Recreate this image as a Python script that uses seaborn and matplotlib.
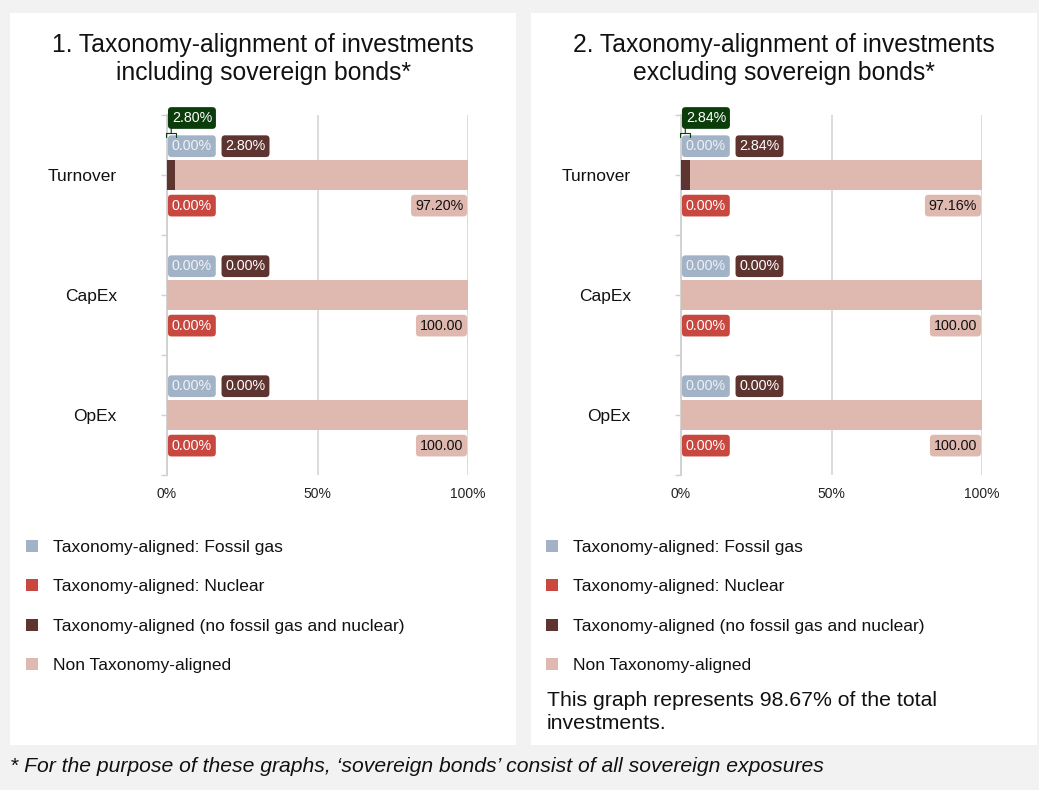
import matplotlib
matplotlib.use("Agg")
import matplotlib.pyplot as plt
from matplotlib.patches import Rectangle, Patch
import pandas as pd
import seaborn as sns

# data (percentages)
categories = ["Turnover", "CapEx", "OpEx"]
incl_fossil = [0.00, 0.00, 0.00]
incl_nuclear = [0.00, 0.00, 0.00]
incl_aligned = [2.80, 0.00, 0.00]
incl_non = [97.20, 100.00, 100.00]
excl_fossil = [0.00, 0.00, 0.00]
excl_nuclear = [0.00, 0.00, 0.00]
excl_aligned = [2.84, 0.00, 0.00]
excl_non = [97.16, 100.00, 100.00]

titles = ["1. Taxonomy-alignment of investments\nincluding sovereign bonds*",
          "2. Taxonomy-alignment of investments\nexcluding sovereign bonds*"]
series_names = ["Taxonomy-aligned: Fossil gas", "Taxonomy-aligned: Nuclear",
                "Taxonomy-aligned (no fossil gas and nuclear)", "Non Taxonomy-aligned"]
x_ticks = [0, 50, 100]
x_tick_labels = ["0%", "50%", "100%"]
share_note = "This graph represents 98.67% of the total\ninvestments."
footnote = "* For the purpose of these graphs, \u2018sovereign bonds\u2019 consist of all sovereign exposures"

C_FOSSIL = "#a3b3c7"
C_NUCLEAR = "#c8473f"
C_ALIGNED = "#5e3430"
C_NON = "#dfb9b0"
C_TOTAL = "#0b3d0b"
BG = "#f2f2f2"

sns.set_theme(style="white")
plt.rcParams["font.family"] = ["Liberation Sans", "DejaVu Sans"]

fig = plt.figure(figsize=(10.39, 7.90), dpi=100, facecolor=BG)
W, H = 1039, 790


def fx(px):
    return px / W


def fy(py):
    return 1 - py / H


# white panels behind everything
for left, right in [(10, 516), (531, 1037)]:
    fig.patches.append(Rectangle((fx(left), fy(745)), fx(right - left), (745 - 13) / H,
                                 transform=fig.transFigure, facecolor="white",
                                 edgecolor="none", zorder=-5))

LABEL_FS = 10.3


def box(ax, x, y, text, fc, tc, ha="left"):
    ax.text(x, y, text, ha=ha, va="center", fontsize=LABEL_FS, color=tc, zorder=6,
            bbox=dict(boxstyle="round,pad=0.27,rounding_size=0.25", fc=fc, ec="none"))


def draw_panel(ax, fossil, nuclear, aligned, non):
    df = pd.DataFrame({"cat": categories, "fossil": fossil, "nuclear": nuclear,
                       "aligned": aligned, "non": non})
    df["c_non"] = df["fossil"] + df["nuclear"] + df["aligned"] + df["non"]
    df["c_aligned"] = df["fossil"] + df["nuclear"] + df["aligned"]
    df["c_nuclear"] = df["fossil"] + df["nuclear"]
    for col, color in [("c_non", C_NON), ("c_aligned", C_ALIGNED),
                       ("c_nuclear", C_NUCLEAR), ("fossil", C_FOSSIL)]:
        sns.barplot(data=df, y="cat", x=col, orient="h", color=color, saturation=1,
                    width=0.25, linewidth=0, ax=ax, zorder=3)
    ax.set_xlim(0, 100)
    ax.set_ylim(2.5, -0.5)
    ax.set_xlabel("")
    ax.set_ylabel("")
    ax.set_xticks(x_ticks, x_tick_labels)
    ax.set_yticks(range(len(categories)), categories)
    ax.set_yticks([i - 0.5 for i in range(len(categories) + 1)], minor=True)
    ax.tick_params(axis="x", length=0, pad=9, labelsize=10, colors="#222222")
    ax.tick_params(axis="y", which="both", left=True, length=4, width=1,
                   color="#d0d0d0", pad=32, labelsize=12.5, labelcolor="#111111")
    for lbl in ax.get_yticklabels():
        lbl.set_va("center_baseline")
    ax.grid(axis="x", color="#d9d9d9", linewidth=1.3, zorder=0)
    ax.set_axisbelow(True)
    for s in ["top", "right", "bottom"]:
        ax.spines[s].set_visible(False)
    ax.spines["left"].set_color("#d0d0d0")
    ax.spines["left"].set_linewidth(1.3)
    ax.set_facecolor("none")

    for i in range(len(categories)):
        box(ax, 1.6, i - 0.24, f"{fossil[i]:.2f}%", C_FOSSIL, "#eef2f7")
        box(ax, 19.4, i - 0.24, f"{aligned[i]:.2f}%", C_ALIGNED, "white")
        box(ax, 1.6, i + 0.255, f"{nuclear[i]:.2f}%", C_NUCLEAR, "white")
        box(ax, 98.4, i + 0.255, f"{non[i]:.2f}%"[:6], C_NON, "#111111", ha="right")
        total = fossil[i] + nuclear[i] + aligned[i]
        if total > 0:
            box(ax, 1.6, i - 0.475, f"{total:.2f}%", C_TOTAL, "white")
            ax.annotate("", xy=(total / 2, i - 0.35), xytext=(total / 2, i - 0.40),
                        arrowprops=dict(arrowstyle="-[,widthB=0.3,lengthB=0.25",
                                        color=C_TOTAL, lw=0.8, shrinkA=0, shrinkB=0),
                        zorder=6)


ax1 = fig.add_axes([fx(167), fy(475), fx(301), (475 - 115) / H])
ax2 = fig.add_axes([fx(681), fy(475), fx(301), (475 - 115) / H])
draw_panel(ax1, incl_fossil, incl_nuclear, incl_aligned, incl_non)
draw_panel(ax2, excl_fossil, excl_nuclear, excl_aligned, excl_non)

for cx, t in zip([263, 784], titles):
    fig.text(fx(cx), fy(59), t, ha="center", va="center", fontsize=17.8,
             color="#111111", linespacing=1.25)

handles = [Patch(facecolor=c, edgecolor="none") for c in [C_FOSSIL, C_NUCLEAR, C_ALIGNED, C_NON]]
for lx in [10, 530]:
    fig.legend(handles, series_names, loc="upper left", bbox_to_anchor=(fx(lx), fy(524)),
               frameon=False, fontsize=12.5, handlelength=0.7, handleheight=0.7,
               handletextpad=0.9, labelspacing=1.4, labelcolor="#111111")

fig.text(fx(547), fy(691), share_note, ha="left", va="top", fontsize=15.3,
         color="#111111", linespacing=1.25)
fig.text(fx(10), fy(766), footnote, ha="left", va="center", fontsize=15.2,
         style="italic", color="#111111")

fig.savefig("out.png", dpi=100, facecolor=BG)
